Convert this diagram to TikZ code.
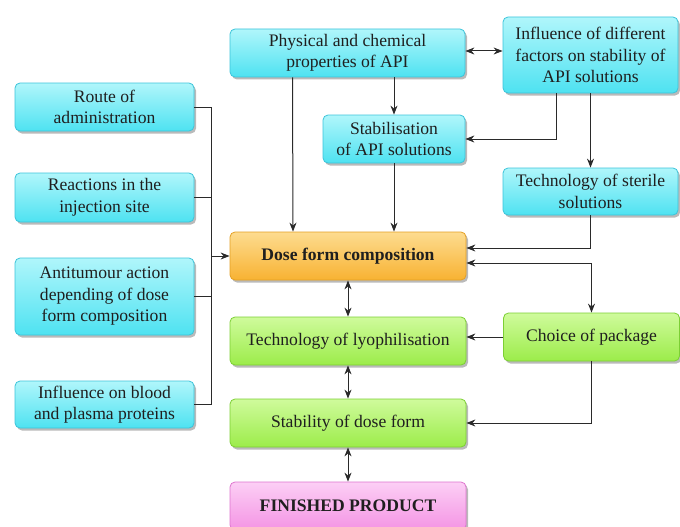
\documentclass[tikz,border=0pt]{standalone}
\usepackage{fontspec}
\setmainfont{Liberation Serif}
\usetikzlibrary{arrows.meta,shadows,calc}
\definecolor{cyT}{HTML}{B0F6FB}
\definecolor{cyB}{HTML}{4EE2F1}
\definecolor{cyD}{HTML}{3CC4DA}
\definecolor{orT}{HTML}{FDDC90}
\definecolor{orB}{HTML}{F8B232}
\definecolor{orD}{HTML}{E4A024}
\definecolor{grT}{HTML}{CFFB9C}
\definecolor{grB}{HTML}{9CEC4A}
\definecolor{grD}{HTML}{7CCF34}
\definecolor{piT}{HTML}{FCCFF5}
\definecolor{piB}{HTML}{F494E4}
\definecolor{piD}{HTML}{DE74CE}
\definecolor{lnC}{HTML}{2A2A2A}
\tikzset{
  box/.style={rounded corners=5pt, line width=0.8pt, align=center, inner sep=2pt,
    font=\fontsize{17.6}{21.5}\selectfont, text=black!88,
    drop shadow={shadow xshift=2pt, shadow yshift=-2.5pt, opacity=0.45, fill=black!60}},
  cbox/.style={box, draw=cyD, top color=cyT, bottom color=cyB},
  obox/.style={box, draw=orD, top color=orT, bottom color=orB},
  gbox/.style={box, draw=grD, top color=grT, bottom color=grB},
  pbox/.style={box, draw=piD, top color=piT, bottom color=piB},
  arr/.style={draw=lnC, line width=1pt, -{Stealth[length=9pt,width=7pt]}},
  darr/.style={draw=lnC, line width=1pt, {Stealth[length=9pt,width=7pt]}-{Stealth[length=9pt,width=7pt]}},
  ln/.style={draw=lnC, line width=1pt}
}
\begin{document}
\begin{tikzpicture}[x=1pt,y=-1pt]
\useasboundingbox (0,0) rectangle (680,527);
% top/right cyan boxes
\node[cbox, minimum width=235pt, minimum height=48pt] (phys) at (347.5,53) {Physical and chemical\\properties of API};
\node[cbox, minimum width=142pt, minimum height=48pt] (stab) at (394,139) {Stabilisation\\of API solutions};
\node[cbox, minimum width=175pt, minimum height=76pt] (infl) at (590.5,55) {Influence of different\\factors on stability of\\API solutions};
\node[cbox, minimum width=175pt, minimum height=47pt] (ster) at (590.5,191.5) {Technology of sterile\\solutions};
% left cyan boxes
\node[cbox, minimum width=179pt, minimum height=48pt] (route) at (104.5,107) {Route of\\administration};
\node[cbox, minimum width=179pt, minimum height=49pt] (react) at (104.5,197.5) {Reactions in the\\injection site};
\node[cbox, minimum width=179pt, minimum height=77pt] (anti) at (104.5,296.5) {Antitumour action\\depending of dose\\form composition};
\node[cbox, minimum width=179pt, minimum height=47pt] (blood) at (104.5,404.5) {Influence on blood\\and plasma proteins};
% centre column
\node[obox, minimum width=236pt, minimum height=48pt, font=\fontsize{17.6}{21.5}\selectfont\bfseries] (dose) at (348,256) {Dose form composition};
\node[gbox, minimum width=236pt, minimum height=48pt] (lyo) at (348,341) {Technology of lyophilisation};
\node[gbox, minimum width=236pt, minimum height=48pt] (sdf) at (348,423) {Stability of dose form};
\node[pbox, minimum width=236pt, minimum height=48pt, font=\fontsize{17.6}{21.5}\selectfont\bfseries] (fin) at (348,506) {FINISHED PRODUCT};
\node[gbox, minimum width=176pt, minimum height=48pt] (choice) at (591.5,337) {Choice of package};
% connectors top
\draw[arr] ([xshift=-55pt]phys.south) -- ([xshift=-55pt]dose.north);
\draw[arr] (phys.south -| stab.north) -- (stab.north);
\draw[arr] (stab.south) -- (stab.south |- dose.north);
\draw[darr] ([yshift=2pt]phys.east) -- ([yshift=2pt]phys.east -| infl.west);
\draw[arr] ([xshift=-34.5pt]infl.south) |- (stab.east);
\draw[arr] (infl.south) -- (ster.north);
\draw[arr] (ster.south) |- ([yshift=8pt]dose.east);
\draw[darr] ([yshift=-7pt]dose.east) -| (choice.north);
\draw[arr] (choice.west) -- (choice.west -| lyo.east);
\draw[arr] (choice.south) |- (sdf.east);
% centre column
\draw[darr] (dose.south) -- (lyo.north);
\draw[darr] (lyo.south) -- (sdf.north);
\draw[darr] (sdf.south) -- (fin.north);
% left bus
\coordinate (bus) at (211,0);
\draw[ln] (route.east) -| (bus |- blood.east) -- (blood.east);
\draw[ln] (react.east) -- (react.east -| bus);
\draw[ln] (anti.east) -- (anti.east -| bus);
\draw[arr] (dose.west -| bus) -- (dose.west);
\end{tikzpicture}
\end{document}
